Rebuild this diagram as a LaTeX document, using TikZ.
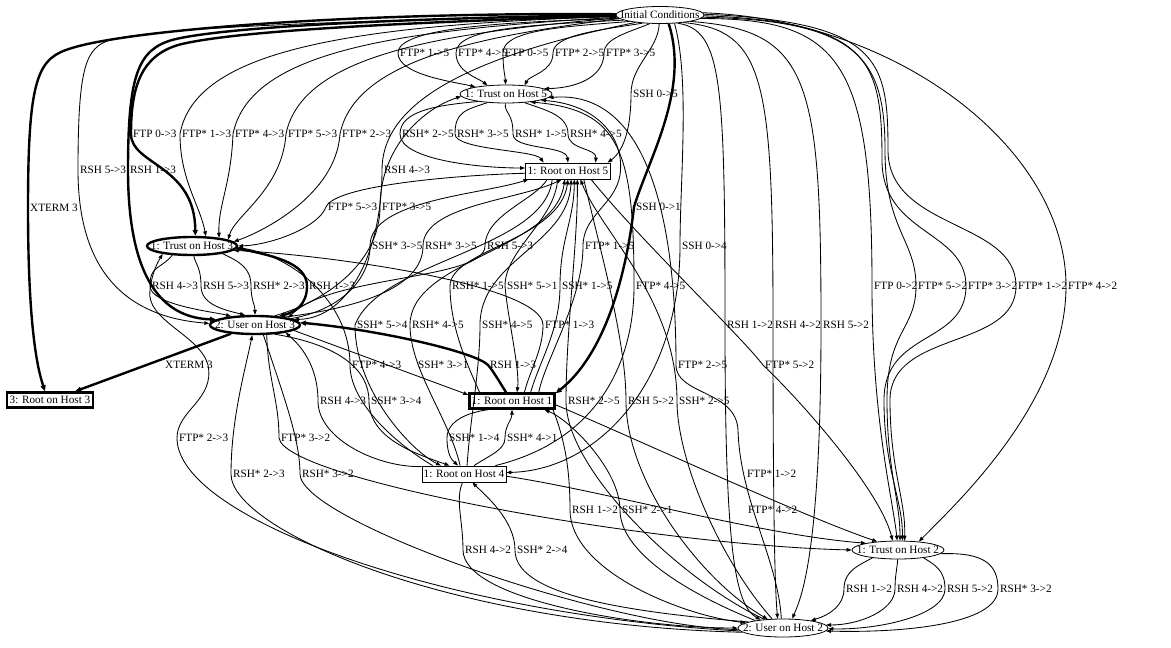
\documentclass[tikz,border=0pt]{standalone}
\usepackage{fontspec}
\setmainfont{Liberation Serif}
\usetikzlibrary{arrows.meta,shapes.geometric}
\begin{document}
\begin{tikzpicture}[x=1pt,y=1pt,
  txt/.style={font=\fontsize{11.2}{13}\selectfont},
  st/.style={ellipse,draw,line width=0.8pt,inner sep=0pt,minimum width=92pt,minimum height=18pt,txt},
  stb/.style={st,line width=2.4pt},
  rt/.style={rectangle,draw,line width=0.8pt,inner sep=0pt,minimum width=85pt,minimum height=16pt,txt},
  rtb/.style={rt,line width=2.4pt,minimum height=15pt},
  lb/.style={anchor=west,inner xsep=2pt,inner ysep=0.5pt,txt},
  e/.style={line width=0.85pt,-{Triangle[length=5pt,width=3.6pt]}},
  eb/.style={line width=2.4pt,-{Triangle[length=6pt,width=5pt]}},
]
\fill[white] (0,0) rectangle (1171,-648);
\useasboundingbox (0,0) rectangle (1171,-648);

% states
\node[st,minimum width=88pt,minimum height=17pt] (ic) at (660,-15) {\makebox[0pt]{Initial Conditions}};
\node[st] (t5) at (506,-94) {\makebox[0pt]{1: Trust on Host 5}};
\node[rt] (r5) at (568,-171) {\makebox[0pt]{1: Root on Host 5}};
\node[stb,minimum width=90pt] (t3) at (192,-246) {\makebox[0pt]{1: Trust on Host 3}};
\node[stb,minimum width=90pt] (u3) at (255,-325) {\makebox[0pt]{2: User on Host 3}};
\node[rtb,minimum width=86pt] (r3) at (50,-400) {\makebox[0pt]{3: Root on Host 3}};
\node[rtb] (r1) at (512,-401) {\makebox[0pt]{1: Root on Host 1}};
\node[rt,minimum width=84pt] (r4) at (464,-474) {\makebox[0pt]{1: Root on Host 4}};
\node[st] (t2) at (898,-550) {\makebox[0pt]{1: Trust on Host 2}};
\node[st,minimum width=90pt] (u2) at (783,-628) {\makebox[0pt]{2: User on Host 2}};

% exploit labels
\node[lb] (la1) at (398,-53) {FTP* 1->5};
\node[lb] (la2) at (456,-53) {FTP* 4->5};
\node[lb] (la3) at (503,-53) {FTP 0->5};
\node[lb] (la4) at (553,-53) {FTP* 2->5};
\node[lb] (la5) at (604,-53) {FTP* 3->5};
\node[lb] (lb1) at (631,-94) {SSH 0->5};
\node[lb] (lc1) at (131,-134) {FTP 0->3};
\node[lb] (lc2) at (180,-134) {FTP* 1->3};
\node[lb] (lc3) at (233,-134) {FTP* 4->3};
\node[lb] (lc4) at (286,-134) {FTP* 5->3};
\node[lb] (lc5) at (340,-134) {FTP* 2->3};
\node[lb] (ld1) at (400,-134) {RSH* 2->5};
\node[lb] (ld2) at (455,-134) {RSH* 3->5};
\node[lb] (ld3) at (513,-134) {RSH* 1->5};
\node[lb] (ld4) at (568,-134) {RSH* 4->5};
\node[lb] (le1) at (78,-170) {RSH 5->3};
\node[lb] (le2) at (128,-170) {RSH 1->3};
\node[lb] (le3) at (382,-170) {RSH 4->3};
\node[lb] (lf0) at (28,-208) {XTERM 3};
\node[lb] (lf1) at (326,-207) {FTP* 5->3};
\node[lb] (lf2) at (380,-207) {FTP* 3->5};
\node[lb] (lf3) at (634,-207) {SSH 0->1};
\node[lb] (lg1) at (370,-246) {SSH* 3->5};
\node[lb] (lg2) at (423,-246) {RSH* 3->5};
\node[lb] (lg3) at (485,-246) {RSH 5->3};
\node[lb] (lg4) at (583,-246) {FTP* 1->5};
\node[lb] (lg5) at (680,-246) {SSH 0->4};
\node[lb] (lh1) at (150,-286) {RSH 4->3};
\node[lb] (lh2) at (201,-286) {RSH 5->3};
\node[lb] (lh3) at (251,-286) {RSH* 2->3};
\node[lb] (lh4) at (307,-286) {RSH 1->3};
\node[lb] (lh5) at (450,-286) {RSH* 1->5};
\node[lb] (lh6) at (505,-286) {SSH* 5->1};
\node[lb] (lh7) at (560,-286) {SSH* 1->5};
\node[lb] (lh8) at (634,-286) {FTP* 4->5};
\node[lb] (lh9) at (872,-286) {FTP 0->2};
\node[lb] (lh10) at (916,-286) {FTP* 5->2};
\node[lb] (lh11) at (966,-286) {FTP* 3->2};
\node[lb] (lh12) at (1016,-286) {FTP* 1->2};
\node[lb] (lh13) at (1066,-286) {FTP* 4->2};
\node[lb] (li1) at (355,-325) {SSH* 5->4};
\node[lb] (li2) at (410,-325) {RSH* 4->5};
\node[lb] (li3) at (480,-325) {SSH* 4->5};
\node[lb] (li4) at (543,-325) {FTP* 1->3};
\node[lb] (li5) at (725,-325) {RSH 1->2};
\node[lb] (li6) at (773,-325) {RSH 4->2};
\node[lb] (li7) at (821,-325) {RSH 5->2};
\node[lb] (lj1) at (163,-365) {XTERM 3};
\node[lb] (lj2) at (350,-365) {FTP* 4->3};
\node[lb] (lj3) at (416,-365) {SSH* 3->1};
\node[lb] (lj4) at (488,-365) {RSH 1->3};
\node[lb] (lj5) at (676,-365) {FTP* 2->5};
\node[lb] (lj6) at (763,-365) {FTP* 5->2};
\node[lb] (lk1) at (318,-401) {RSH 4->3};
\node[lb] (lk2) at (369,-401) {SSH* 3->4};
\node[lb] (lk3) at (566,-401) {RSH* 2->5};
\node[lb] (lk4) at (626,-401) {RSH 5->2};
\node[lb] (lk5) at (677,-401) {SSH* 2->5};
\node[lb] (ll1) at (177,-438) {FTP* 2->3};
\node[lb] (ll2) at (279,-438) {FTP* 3->2};
\node[lb] (ll3) at (447,-438) {SSH* 1->4};
\node[lb] (ll4) at (505,-438) {SSH* 4->1};
\node[lb] (lm1) at (231,-474) {RSH* 2->3};
\node[lb] (lm2) at (300,-474) {RSH* 3->2};
\node[lb] (lm3) at (745,-474) {FTP* 1->2};
\node[lb] (ln1) at (570,-510) {RSH 1->2};
\node[lb] (ln2) at (620,-510) {SSH* 2->1};
\node[lb] (ln3) at (746,-510) {FTP* 4->2};
\node[lb] (lo1) at (463,-550) {RSH 4->2};
\node[lb] (lo2) at (515,-550) {SSH* 2->4};
\node[lb] (lp1) at (844,-589) {RSH 1->2};
\node[lb] (lp2) at (895,-589) {RSH 4->2};
\node[lb] (lp3) at (945,-589) {RSH 5->2};
\node[lb] (lp4) at (998,-589) {RSH* 3->2};

% Initial Conditions -> Trust on Host 5
\draw[e] (ic.185) .. controls (500,-22) and (398,-28) .. (la1.west) .. controls (398,-75) and (455,-82) .. (t5.167);
\draw[e] (ic.188) .. controls (530,-25) and (456,-28) .. (la2.west) .. controls (456,-72) and (478,-78) .. (t5.155);
\draw[e] (ic.192) .. controls (560,-27) and (503,-30) .. (la3.west) .. controls (503,-70) and (505,-75) .. (t5.92);
\draw[e] (ic.205) .. controls (600,-30) and (553,-35) .. (la4.west) .. controls (553,-72) and (530,-75) .. (t5.25);
\draw[e] (ic.220) .. controls (630,-32) and (604,-38) .. (la5.west) .. controls (604,-78) and (575,-88) .. (t5.8);
\draw[e] (ic.265) .. controls (658,-50) and (631,-65) .. (lb1.west) .. controls (631,-125) and (625,-150) .. (r5.12);

% Initial Conditions -> Trust on Host 3
\draw[eb] (ic.181) .. controls (420,-22) and (235,-30) .. (178,-45) .. controls (142,-56) and (131,-85) .. (lc1.west) .. controls (131,-165) and (195,-165) .. (t3.72);
\draw[e] (ic.182) .. controls (350,-25) and (195,-50) .. (lc2.west) .. controls (180,-180) and (200,-205) .. (t3.35);
\draw[e] (ic.183) .. controls (400,-30) and (250,-50) .. (lc3.west) .. controls (231,-185) and (218,-205) .. (t3.17);
\draw[e] (ic.184) .. controls (440,-33) and (302,-55) .. (lc4.west) .. controls (282,-190) and (235,-215) .. (t3.10);
\draw[e] (ic.185) .. controls (480,-36) and (355,-60) .. (lc5.west) .. controls (336,-195) and (262,-232) .. (t3.6);

% Trust on Host 5 -> Root on Host 5
\draw[e] (t5.195) .. controls (440,-105) and (400,-110) .. (ld1.west) .. controls (400,-160) and (480,-168) .. (r5.176);
\draw[e] (t5.205) .. controls (465,-110) and (455,-112) .. (ld2.west) .. controls (455,-150) and (535,-150) .. (r5.161);
\draw[e] (t5.265) .. controls (505,-115) and (513,-112) .. (ld3.west) .. controls (513,-150) and (566,-145) .. (r5.90);
\draw[e] (t5.335) .. controls (545,-110) and (568,-115) .. (ld4.west) .. controls (568,-150) and (597,-148) .. (r5.17);

% Initial Conditions -> User on Host 3, Root on Host 3
\draw[e] (ic.180) .. controls (400,-20) and (170,-25) .. (110,-40) .. controls (86,-48) and (78,-65) .. (le1.west) .. controls (78,-285) and (140,-318) .. (u3.178);
\draw[eb] (ic.180) .. controls (420,-18) and (225,-26) .. (172,-40) .. controls (138,-50) and (128,-75) .. (le2.west) .. controls (128,-290) and (170,-318) .. (u3.172);
\draw[e] (ic.197) .. controls (450,-60) and (382,-110) .. (le3.west) .. controls (382,-250) and (350,-318) .. (u3.8);
\draw[eb] (ic.179) .. controls (350,-12) and (130,-30) .. (72,-48) .. controls (38,-58) and (28,-75) .. (lf0.west) .. controls (28,-330) and (38,-370) .. (r3.120);

% Initial Conditions -> Root on Host 1, Root on Host 4
\draw[eb] (ic.315) .. controls (690,-90) and (648,-160) .. (lf3.west) .. controls (628,-260) and (610,-350) .. (r1.10);
\draw[e] (ic.330) .. controls (690,-80) and (680,-180) .. (lg5.west) .. controls (680,-380) and (600,-470) .. (r4.2);

% Initial Conditions -> Trust on Host 2
\draw[e] (ic.355) .. controls (840,-18) and (872,-60) .. (lh9.west) .. controls (872,-420) and (893,-500) .. (t2.95);
\draw[e] (ic.357) .. controls (860,-20) and (885,-60) .. (885,-150) .. controls (885,-230) and (916,-240) .. (lh10.west) .. controls (916,-330) and (887,-330) .. (887,-400) .. controls (887,-470) and (900,-500) .. (t2.78);
\draw[e] (ic.359) .. controls (870,-22) and (882,-60) .. (882,-160) .. controls (882,-235) and (966,-230) .. (lh11.west) .. controls (966,-345) and (884,-330) .. (884,-400) .. controls (884,-470) and (903,-500) .. (t2.65);
\draw[e] (ic.1) .. controls (880,-22) and (888,-60) .. (888,-150) .. controls (888,-230) and (1016,-220) .. (lh12.west) .. controls (1016,-350) and (890,-330) .. (890,-400) .. controls (890,-470) and (906,-500) .. (t2.55);
\draw[e] (ic.3) .. controls (900,-20) and (1066,-150) .. (lh13.west) .. controls (1066,-400) and (960,-500) .. (t2.22);

% Initial Conditions -> User on Host 2
\draw[e] (ic.335) .. controls (722,-30) and (725,-80) .. (li5.west) .. controls (725,-550) and (735,-605) .. (u2.160);
\draw[e] (ic.342) .. controls (765,-30) and (773,-80) .. (li6.west) .. controls (773,-560) and (776,-600) .. (u2.120);
\draw[e] (ic.348) .. controls (810,-30) and (821,-80) .. (li7.west) .. controls (821,-560) and (800,-600) .. (u2.45);

% Trust on Host 3 -> User on Host 3
\draw[e] (t3.205) .. controls (160,-270) and (150,-265) .. (lh1.west) .. controls (150,-305) and (215,-312) .. (u3.160);
\draw[e] (t3.-80) .. controls (196,-265) and (201,-268) .. (lh2.west) .. controls (201,-305) and (225,-310) .. (u3.135);
\draw[e] (t3.-14) .. controls (240,-262) and (251,-268) .. (lh3.west) .. controls (251,-300) and (255,-305) .. (u3.90);
\draw[eb] (t3.-3) .. controls (270,-255) and (307,-262) .. (lh4.west) .. controls (307,-305) and (295,-312) .. (u3.20);

% User on Host 3 -> Root on Host 3
\draw[eb] (u3.200) -- (r3.19);

% from Root on Host 5
\draw[e] (r5.183) .. controls (460,-175) and (335,-185) .. (lf1.west) .. controls (318,-228) and (270,-245) .. (t3.0);
\draw[e] (r5.-158) .. controls (535,-200) and (485,-215) .. (lg3.west) .. controls (485,-280) and (330,-275) .. (u3.12);
\draw[e] (r5.-141) .. controls (555,-220) and (505,-250) .. (lh6.west) .. controls (508,-320) and (520,-370) .. (r1.60);
\draw[e] (r5.-20) .. controls (640,-240) and (740,-335) .. (lj6.west) .. controls (800,-400) and (880,-490) .. (t2.120);
\draw[e] (r5.-28) .. controls (600,-250) and (626,-340) .. (lk4.west) .. controls (626,-480) and (700,-580) .. (u2.150);
\draw[e] (r5.-152) .. controls (545,-250) and (380,-260) .. (li1.west) .. controls (355,-390) and (410,-450) .. (r4.160);

% from User on Host 3
\draw[e] (u3.25) .. controls (330,-300) and (380,-260) .. (lf2.west) .. controls (380,-150) and (420,-110) .. (t5.183);
\draw[e] (u3.10) .. controls (340,-310) and (370,-280) .. (lg1.west) .. controls (370,-200) and (480,-195) .. (r5.-168);
\draw[e] (u3.15) .. controls (380,-305) and (423,-280) .. (lg2.west) .. controls (423,-205) and (520,-200) .. (r5.-127);
\draw[e] (u3.-8) -- (r1.172);
\draw[e] (u3.-25) .. controls (340,-345) and (369,-370) .. (lk2.west) .. controls (369,-440) and (420,-455) .. (r4.150);
\draw[e] (u3.-40) .. controls (268,-380) and (279,-400) .. (ll2.west) .. controls (285,-480) and (650,-545) .. (t2.180);
\draw[e] (u3.-50) .. controls (285,-400) and (300,-440) .. (lm2.west) .. controls (300,-520) and (600,-625) .. (u2.182);

% from Root on Host 1
\draw[eb] (r1.124) .. controls (500,-383) and (494,-372) .. (lj4.west) .. controls (475,-352) and (380,-330) .. (u3.3);
\draw[e] (r1.35) .. controls (530,-370) and (543,-350) .. (li4.west) .. controls (543,-285) and (330,-255) .. (t3.-6);
\draw[e] (r1.18) .. controls (545,-360) and (583,-300) .. (lg4.west) .. controls (583,-215) and (615,-205) .. (620,-175) .. controls (625,-140) and (600,-105) .. (t5.-10);
\draw[e] (r1.165) .. controls (470,-370) and (450,-330) .. (lh5.west) .. controls (450,-250) and (560,-240) .. (r5.-90);
\draw[e] (r1.25) .. controls (540,-360) and (560,-330) .. (lh7.west) .. controls (560,-240) and (574,-220) .. (r5.-53);
\draw[e] (r1.-160) .. controls (470,-412) and (447,-420) .. (ll3.west) .. controls (447,-455) and (452,-460) .. (r4.125);
\draw[e] (r1.-5) .. controls (650,-445) and (800,-515) .. (t2.158);
\draw[e] (r1.-12) .. controls (565,-440) and (570,-470) .. (ln1.west) .. controls (570,-570) and (680,-615) .. (u2.172);

% from Root on Host 4
\draw[e] (r4.170) .. controls (380,-468) and (318,-440) .. (lk1.west) .. controls (318,-365) and (300,-345) .. (u3.-14);
\draw[e] (r4.165) .. controls (390,-440) and (350,-400) .. (lj2.west) .. controls (350,-300) and (290,-255) .. (t3.-2);
\draw[e] (r4.115) .. controls (450,-420) and (410,-370) .. (li2.west) .. controls (410,-260) and (555,-250) .. (r5.-111);
\draw[e] (r4.70) .. controls (470,-420) and (480,-370) .. (li3.west) .. controls (480,-260) and (568,-245) .. (r5.-69);
\draw[e] (r4.15) .. controls (600,-440) and (634,-360) .. (lh8.west) .. controls (634,-150) and (620,-110) .. (t5.-18);
\draw[e] (r4.40) .. controls (490,-455) and (505,-450) .. (ll4.west) .. controls (505,-425) and (512,-420) .. (r1.-90);
\draw[e] (r4.-3) .. controls (600,-490) and (760,-535) .. (t2.168);
\draw[e] (r4.-100) .. controls (455,-500) and (463,-520) .. (lo1.west) .. controls (463,-600) and (640,-628) .. (u2.180);

% from User on Host 2
\draw[e] (u2.184) .. controls (450,-615) and (177,-520) .. (ll1.west) .. controls (177,-410) and (215,-400) .. (208,-365) .. controls (200,-335) and (145,-320) .. (150,-290) .. controls (152,-272) and (158,-262) .. (t3.-165);
\draw[e] (u2.186) .. controls (450,-625) and (231,-530) .. (lm1.west) .. controls (231,-420) and (245,-370) .. (u3.-105);
\draw[e] (u2.100) .. controls (778,-560) and (740,-500) .. (738,-430) .. controls (736,-390) and (676,-395) .. (lj5.west) .. controls (676,-200) and (640,-90) .. (t5.-5);
\draw[e] (u2.155) .. controls (680,-580) and (566,-470) .. (lk3.west) .. controls (566,-330) and (578,-240) .. (r5.-42);
\draw[e] (u2.140) .. controls (720,-560) and (677,-460) .. (lk5.west) .. controls (677,-300) and (600,-230) .. (r5.-34);
\draw[e] (u2.165) .. controls (680,-590) and (620,-550) .. (ln2.west) .. controls (620,-470) and (570,-420) .. (r1.-15);
\draw[e] (u2.170) .. controls (600,-610) and (515,-590) .. (lo2.west) .. controls (515,-520) and (485,-495) .. (r4.-45);

% Trust on Host 2 -> User on Host 2
\draw[e] (t2.-163) .. controls (860,-565) and (844,-570) .. (lp1.west) .. controls (844,-605) and (830,-615) .. (u2.15);
\draw[e] (t2.-92) .. controls (897,-570) and (895,-575) .. (lp2.west) .. controls (895,-610) and (860,-625) .. (u2.4);
\draw[e] (t2.-17) .. controls (935,-565) and (945,-570) .. (lp3.west) .. controls (945,-615) and (880,-630) .. (u2.-1);
\draw[e] (t2.-5) .. controls (985,-552) and (998,-565) .. (lp4.west) .. controls (998,-625) and (900,-633) .. (u2.-4);
\end{tikzpicture}
\end{document}
